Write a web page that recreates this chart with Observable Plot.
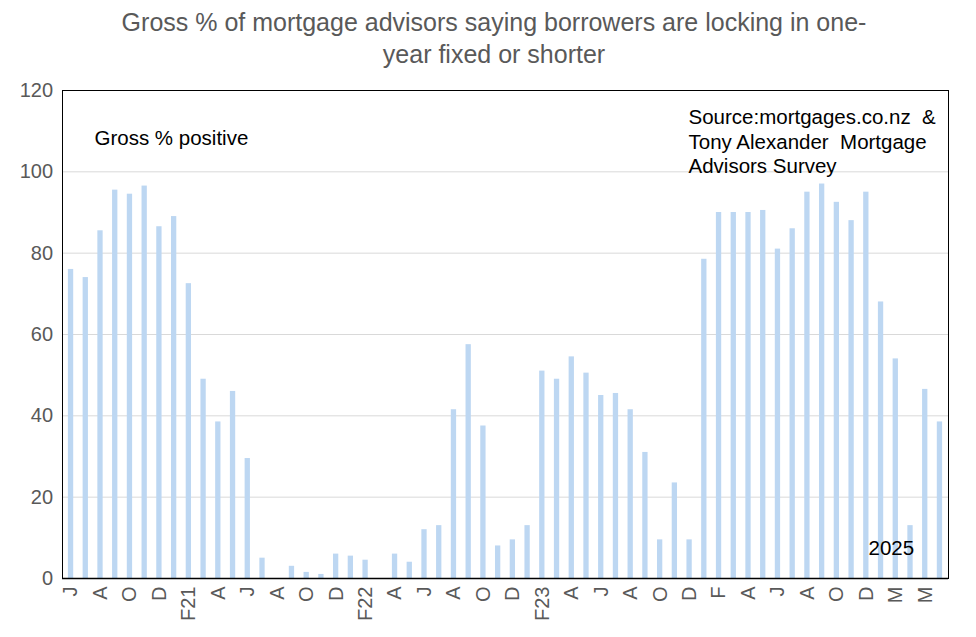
<!DOCTYPE html>
<html><head><meta charset="utf-8">
<script src="https://cdn.jsdelivr.net/npm/d3@7"></script>
<script src="https://cdn.jsdelivr.net/npm/@observablehq/plot@0.6"></script>
<style>
body{margin:0;background:#fff;font-family:"Liberation Sans",Arial,sans-serif;}
#title{height:80px;box-sizing:border-box;padding-top:6px;padding-left:12px;text-align:center;color:#595959;font-size:25px;line-height:32px;}
</style></head><body>
<div id="title">Gross % of mortgage advisors saying borrowers are locking in one-<br>year fixed or shorter</div>
<div id="chart"></div>
<script>
const values = [76,74,85.5,95.5,94.5,96.5,86.5,89,72.5,49,38.5,46,29.5,5,0,3,1.5,1,6,5.5,
  4.5,0,6,4,12,13,41.5,57.5,37.5,8,9.5,13,51,49,54.5,50.5,45,45.5,41.5,31,
  9.5,23.5,9.5,78.5,90,90,90,90.5,81,86,95,97,92.5,88,95,68,54,13,46.5,38.5];
const tickLabels = {0:"J",2:"A",4:"O",6:"D",8:"F21",10:"A",12:"J",14:"A",16:"O",18:"D",20:"F22",22:"A",24:"J",26:"A",28:"O",30:"D",32:"F23",34:"A",36:"J",38:"A",40:"O",42:"D",44:"F",46:"A",48:"J",50:"A",52:"O",54:"D",56:"M",58:"M"};
const yTicks = [0,20,40,60,80,100,120];
const data = values.map((v,i)=>({i, v}));
const chart = Plot.plot({
  width:976, height:557,
  marginTop:10, marginBottom:59, marginLeft:62, marginRight:28,
  style:{fontFamily:"Liberation Sans, Arial, sans-serif", fontSize:"18px", color:"#595959"},
  x:{type:"band", domain:d3.range(values.length), paddingInner:0.64, paddingOuter:0.4, axis:null},
  y:{domain:[0,120], ticks:yTicks, axis:null},
  marks:[
    Plot.gridY(yTicks, {stroke:"#d9d9d9", strokeOpacity:1}),
    Plot.barY(data, {x:"i", y:"v", fill:"#BDD7F2"}),
    Plot.frame({stroke:"#000", strokeWidth:1}),
    Plot.ruleY([0], {stroke:"#000", strokeWidth:1.5}),
    Plot.text(yTicks, {x:()=>0, y:d=>d, text:d=>String(d), frameAnchor:"left", dx:-18, textAnchor:"end", fill:"#595959", fontSize:20}),
    Plot.axisX({ticks:Object.keys(tickLabels).map(Number), tickFormat:d=>tickLabels[d], tickSize:0, tickRotate:-90, tickPadding:8, fontSize:20, fill:"#595959", label:null}),
    Plot.text(["Gross % positive"], {frameAnchor:"top-left", dx:32, dy:40, textAnchor:"start", fill:"#000", fontSize:20.5}),
    Plot.text(["Source:mortgages.co.nz  &\nTony Alexander  Mortgage\nAdvisors Survey"], {frameAnchor:"top-left", dx:626, dy:16, textAnchor:"start", lineHeight:1.2, fill:"#000", fontSize:20.5}),
    Plot.text(["2025"], {frameAnchor:"top-left", dx:806, dy:450, textAnchor:"start", fill:"#000", fontSize:20.5})
  ]
});
document.getElementById("chart").appendChild(chart);
</script></body></html>
